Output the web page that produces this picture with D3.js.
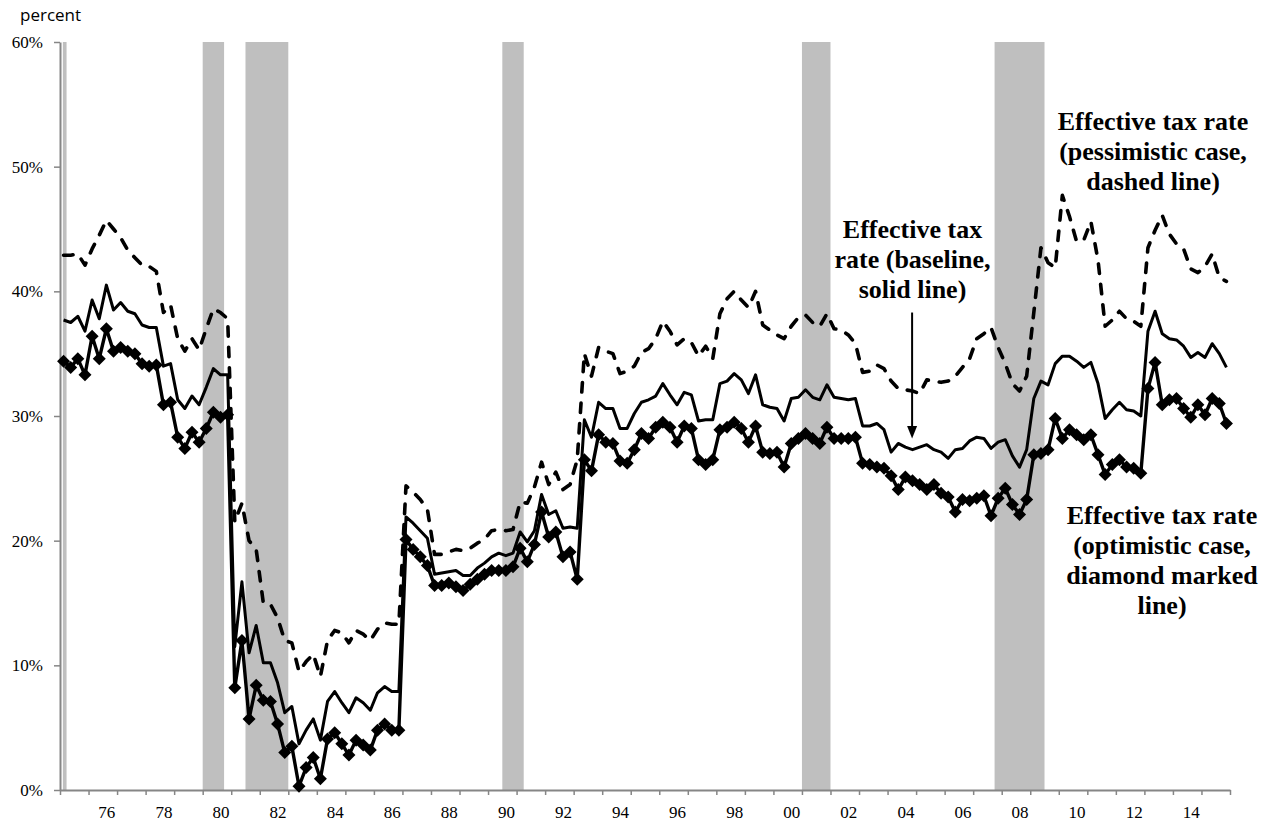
<!DOCTYPE html>
<html><head><meta charset="utf-8">
<script src="https://cdn.jsdelivr.net/npm/d3@7"></script>
<style>body{margin:0;background:#fff}</style>
</head><body>
<svg id="c" width="1268" height="823"></svg>
<script>
// Quarterly data, first quarter = 1975Q1
const startYear = 1975;
const pessimistic = [
 42.9,42.9,43.0,42.1,43.4,44.5,45.7,45.0,44.3,43.3,42.7,42.1,42.0,41.6,38.3,38.9,36.2,35.2,36.2,35.3,37.0,38.6,38.3,37.8,
 21.5,23.0,20.0,19.3,15.0,14.9,13.8,12.0,11.8,9.5,10.3,10.9,9.1,12.0,12.8,12.6,11.8,12.8,12.5,12.0,12.9,13.4,13.3,13.3,
 24.4,23.9,23.3,22.5,18.9,18.9,19.1,19.3,19.2,19.4,19.8,20.1,20.8,20.9,20.8,20.9,23.1,23.0,24.3,26.3,24.5,25.5,24.1,24.5,26.5,35.0,33.2,35.5,35.2,35.0,33.4,33.6,34.0,35.1,35.4,36.2,
 37.6,36.8,35.7,36.2,35.9,34.8,35.6,34.6,38.2,39.4,40.0,39.3,38.7,40.0,37.3,36.9,36.5,36.2,37.2,37.9,38.1,37.5,37.2,38.2,37.0,36.9,36.5,35.8,
 33.5,33.6,34.1,33.8,32.8,32.2,32.1,32.0,31.8,32.9,32.8,32.7,32.8,33.2,
 33.9,34.6,36.2,36.6,37.1,35.5,34.2,32.6,32.0,33.2,38.3,43.5,42.3,41.9,47.7,46.0,44.0,44.1,45.6,42.5,37.2,37.7,38.4,37.8,37.6,37.2,43.5,44.9,46.1,44.6,43.8,43.4,41.8,41.5,42.0,43.0,41.1,40.8
];
const baseline = [
 37.7,37.5,38.0,36.8,39.3,37.8,40.5,38.5,39.1,38.4,38.2,37.3,37.1,37.1,34.0,34.2,31.3,30.6,31.6,30.9,32.3,33.8,33.3,33.3,
 11.5,16.7,11.0,13.2,10.2,10.2,8.6,6.2,6.7,3.7,4.8,5.7,4.0,7.1,7.9,7.0,6.2,7.4,7.0,6.4,7.8,8.3,7.9,7.9,
 21.9,21.4,20.8,20.2,17.3,17.4,17.5,17.6,17.2,17.2,17.8,18.2,18.7,19.0,18.8,19.0,20.7,19.9,20.8,23.7,22.1,22.4,21.0,21.1,21.0,29.7,28.3,31.1,30.6,30.6,29.0,29.0,30.2,31.1,31.3,31.6,
 32.6,31.7,30.9,31.9,31.7,29.6,29.7,29.7,32.6,32.8,33.4,32.9,31.8,33.3,30.9,30.7,30.6,29.6,31.4,31.5,32.1,31.5,31.3,32.5,31.5,31.4,31.3,31.4,
 29.2,29.2,29.4,28.9,27.1,27.8,27.5,27.3,27.5,27.7,27.3,27.1,26.6,27.3,
 27.4,28.0,28.3,28.2,27.4,27.9,28.1,26.8,25.9,27.3,31.4,32.8,32.5,34.2,34.8,34.8,34.4,33.9,34.3,32.6,29.8,30.5,31.1,30.5,30.4,30.0,36.8,38.4,36.6,36.2,36.1,35.6,34.7,35.1,34.7,35.8,35.0,33.9
];
const optimistic = [
 34.4,33.9,34.6,33.3,36.4,34.6,37.0,35.2,35.5,35.2,35.0,34.2,34.0,34.1,30.9,31.1,28.3,27.4,28.7,27.9,29.0,30.3,29.9,30.1,
 8.2,12.0,5.7,8.4,7.2,7.1,5.3,3.0,3.5,0.3,1.8,2.6,0.9,4.1,4.6,3.7,2.8,4.0,3.6,3.2,4.8,5.3,4.8,4.8,
 20.1,19.3,18.7,18.0,16.4,16.4,16.6,16.3,16.0,16.5,16.9,17.3,17.6,17.6,17.6,17.9,19.4,18.3,19.7,22.3,20.3,20.7,18.7,19.1,16.9,26.5,25.6,28.5,27.9,27.8,26.4,26.2,27.3,28.6,28.2,29.1,
 29.5,29.1,27.9,29.2,29.0,26.5,26.1,26.5,28.9,29.1,29.5,29.0,27.9,29.2,27.1,27.0,27.1,25.9,27.8,28.2,28.6,28.2,27.8,29.1,28.2,28.2,28.2,28.3,
 26.2,26.1,25.9,25.8,25.2,24.1,25.1,24.8,24.5,24.1,24.5,23.8,23.5,22.3,
 23.3,23.2,23.4,23.6,22.0,23.4,24.2,22.9,22.1,23.3,26.9,27.0,27.3,29.8,28.2,28.9,28.5,28.1,28.5,26.9,25.3,26.1,26.5,25.9,25.8,25.4,32.2,34.3,30.9,31.3,31.4,30.6,29.9,30.9,30.1,31.4,31.0,29.4
];
// Recession periods (decimal years)
const recStart = [1975.1, 1980.0, 1981.5, 1990.5, 2001.0, 2007.75];
const recEnd   = [1975.23, 1980.75, 1983.0, 1991.25, 2002.0, 2009.5];
// Axis ticks / labels
const yTicks = [0, 10, 20, 30, 40, 50, 60];
const xLabels = ["76","78","80","82","84","86","88","90","92","94","96","98","00","02","04","06","08","10","12","14"];
const xLabelYears = [1976,1978,1980,1982,1984,1986,1988,1990,1992,1994,1996,1998,2000,2002,2004,2006,2008,2010,2012,2014];

const svg = d3.select("#c");
const x = d3.scaleLinear().domain([1975, 2016]).range([60, 1230]);
const y = d3.scaleLinear().domain([0, 60]).range([790, 42]);
const tq = i => startYear + (i + 0.5) / 4;
const axisColor = "#868686";
const serif = "Liberation Serif, Times New Roman, serif";

// recession bands
svg.append("g").selectAll("rect")
  .data(recStart.map((s, i) => [s, recEnd[i]]))
  .join("rect")
  .attr("x", d => x(d[0])).attr("width", d => x(d[1]) - x(d[0]))
  .attr("y", y(60)).attr("height", y(0) - y(60))
  .attr("fill", "#bfbfbf");

// y axis
const gy = svg.append("g").attr("transform", "translate(60,0)")
  .call(d3.axisLeft(y).tickValues(yTicks).tickFormat(d => d + "%").tickSize(6).tickSizeOuter(0).tickPadding(11));
gy.attr("font-family", serif).attr("font-size", 17);
gy.select(".domain").attr("stroke", axisColor).attr("stroke-width", 2);
gy.selectAll(".tick line").attr("stroke", axisColor).attr("stroke-width", 1.5);
gy.selectAll(".tick text").style("font-family", serif).attr("font-size", 17).attr("fill", "#000");

// x axis ticks
const gx = svg.append("g").attr("transform", "translate(0,790)")
  .call(d3.axisBottom(x).tickValues(d3.range(1975, 2017)).tickFormat("").tickSize(5).tickSizeOuter(0));
gx.select(".domain").attr("stroke", axisColor).attr("stroke-width", 2);
gx.selectAll(".tick line").attr("stroke", axisColor).attr("stroke-width", 1.5);
// x axis labels (centered mid-year)
const gxl = svg.append("g").attr("transform", "translate(0,790)")
  .call(d3.axisBottom(x).tickValues(xLabelYears.map(v => v + 0.625)).tickFormat((d, i) => xLabels[i]).tickSize(0).tickPadding(16));
gxl.attr("font-family", serif).attr("font-size", 17);
gxl.select(".domain").remove();
gxl.selectAll(".tick text").style("font-family", serif).attr("font-size", 17).attr("fill", "#000");

// percent label
svg.append("text").attr("x", 20).attr("y", 21).text("percent")
  .attr("font-family", "Open Sans, Liberation Sans, sans-serif").attr("font-size", 17).attr("fill", "#000");

// lines
const line = d3.line().x((d, i) => x(tq(i))).y(d => y(d));
svg.append("path").datum(pessimistic).attr("d", line)
  .attr("fill", "none").attr("stroke", "#000").attr("stroke-width", 3.6)
  .attr("stroke-dasharray", "9.5,11").attr("stroke-linecap", "round").attr("stroke-linejoin", "round");
svg.append("path").datum(baseline).attr("d", line)
  .attr("fill", "none").attr("stroke", "#000").attr("stroke-width", 3).attr("stroke-linejoin", "round");
svg.append("path").datum(optimistic).attr("d", line)
  .attr("fill", "none").attr("stroke", "#000").attr("stroke-width", 3.4).attr("stroke-linejoin", "round");
svg.append("g").selectAll("path").data(optimistic).join("path")
  .attr("transform", (d, i) => `translate(${x(tq(i))},${y(d)})`)
  .attr("d", "M0,-6.5L6.5,0L0,6.5L-6.5,0Z").attr("fill", "#000");

// annotations
function label(cx, baselines, lines) {
  const t = svg.append("text").style("font-family", serif).attr("font-weight", "bold")
    .attr("font-size", 26).attr("text-anchor", "middle").attr("fill", "#000");
  lines.forEach((s, i) => t.append("tspan").attr("x", cx).attr("y", baselines[i]).text(s));
}
label(1153, [130, 160, 190], ["Effective tax rate", "(pessimistic case,", "dashed line)"]);
label(912.5, [238, 268, 298], ["Effective tax", "rate (baseline,", "solid line)"]);
label(1162, [524, 554, 584, 614], ["Effective tax rate", "(optimistic case,", "diamond marked", "line)"]);

// arrow to baseline line
const ax = x(2004.86);
svg.append("line").attr("x1", ax).attr("x2", ax).attr("y1", y(38.3)).attr("y2", y(28.9))
  .attr("stroke", "#000").attr("stroke-width", 2);
svg.append("path").attr("d", `M${ax - 5},${y(29.2)}L${ax + 5},${y(29.2)}L${ax},${y(28.2)}Z`).attr("fill", "#000");
</script>
</body></html>
